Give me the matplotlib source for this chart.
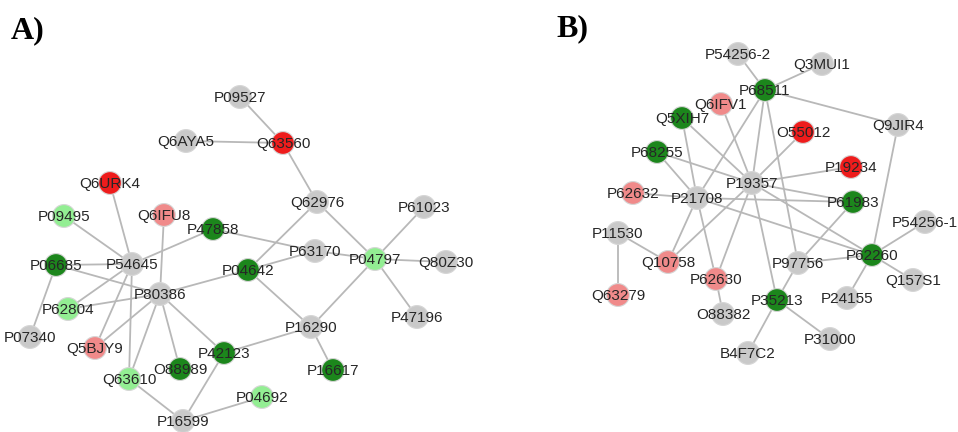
import matplotlib
matplotlib.use("Agg")
import matplotlib.pyplot as plt

# node colour classes
COLORS = {
    "grey": "#c9c9c9",
    "dkgreen": "#1c861c",
    "ltgreen": "#93ee93",
    "red": "#ee1c1c",
    "pink": "#f08a8a",
}

# ---- network A ----
a_names = ["Q6AYA5", "P09527", "Q63560", "Q62976", "P61023", "P63170", "P04797",
           "Q80Z30", "P47858", "P04642", "P47196", "P16290", "P42123", "P16617",
           "P04692", "Q6URK4", "P09495", "Q6IFU8", "P54645", "P06685", "P80386",
           "P62804", "P07340", "Q5BJY9", "O88989", "Q63610", "P16599"]
a_x = [186, 240, 283, 317, 424, 315, 375, 446, 213, 248, 417, 311, 224, 333,
       262, 110, 64, 164, 132, 56, 160, 68, 30, 95, 180, 129, 183]
a_y = [141, 97, 143, 202, 207, 251, 259, 262, 229, 270, 317, 327, 353, 370,
       397, 183, 216, 215, 264, 265, 294, 309, 337, 348, 369, 379, 421]
a_cls = ["grey", "grey", "red", "grey", "grey", "grey", "ltgreen", "grey",
         "dkgreen", "dkgreen", "grey", "grey", "dkgreen", "dkgreen", "ltgreen",
         "red", "ltgreen", "pink", "grey", "dkgreen", "grey", "ltgreen", "grey",
         "pink", "dkgreen", "ltgreen", "grey"]
a_edges = [
    ("P09527", "Q63560"), ("Q6AYA5", "Q63560"), ("Q63560", "Q62976"),
    ("Q62976", "P04797"), ("Q62976", "P04642"), ("P47858", "P63170"),
    ("P63170", "P04797"), ("P04642", "P63170"), ("P61023", "P04797"),
    ("P04797", "Q80Z30"), ("P04797", "P47196"), ("P04797", "P16290"),
    ("P04642", "P16290"), ("P16290", "P42123"), ("P16290", "P16617"),
    ("P16599", "P04692"), ("P16599", "P42123"), ("P16599", "Q63610"),
    ("P42123", "P80386"), ("P80386", "O88989"), ("P80386", "Q63610"),
    ("P80386", "Q5BJY9"), ("P80386", "P62804"), ("P80386", "P04642"),
    ("P80386", "Q6IFU8"), ("P80386", "P06685"), ("P54645", "P06685"),
    ("P54645", "P09495"), ("P54645", "Q6URK4"), ("P54645", "P47858"),
    ("P54645", "P62804"), ("P54645", "Q5BJY9"), ("P54645", "Q63610"),
    ("P06685", "P07340"),
]

# ---- network B ----
b_names = ["P54256-2", "Q3MUI1", "P68511", "Q6IFV1", "Q5XIH7", "O55012", "Q9JIR4",
           "P68255", "P19357", "P19234", "P62632", "P21708", "P61983", "P54256-1",
           "P11530", "Q10758", "P62260", "P97756", "P62630", "Q157S1", "Q63279",
           "P35213", "P24155", "O88382", "P31000", "B4F7C2"]
b_x = [738, 822, 765, 721, 682, 803, 898, 657, 752, 851, 633, 697, 853, 925,
       618, 668, 872, 798, 716, 913, 618, 777, 847, 723, 830, 748]
b_y = [54, 64, 90, 104, 118, 132, 125, 152, 183, 167, 193, 198, 202, 222,
       233, 262, 255, 263, 279, 280, 295, 300, 298, 314, 339, 353]
b_cls = ["grey", "grey", "dkgreen", "pink", "dkgreen", "red", "grey", "dkgreen",
         "grey", "red", "pink", "grey", "dkgreen", "grey", "grey", "pink",
         "dkgreen", "grey", "pink", "grey", "pink", "dkgreen", "grey", "grey",
         "grey", "grey"]
b_edges = [
    ("P54256-2", "P68511"), ("Q3MUI1", "P68511"), ("P68511", "Q9JIR4"),
    ("Q9JIR4", "P62260"), ("P68511", "P19357"), ("P68511", "P21708"),
    ("P68511", "P97756"), ("Q6IFV1", "P19357"), ("Q5XIH7", "P19357"),
    ("Q5XIH7", "P21708"), ("P68255", "P21708"), ("P68255", "P19357"),
    ("P62632", "P21708"), ("P21708", "P61983"), ("P19357", "O55012"),
    ("P19357", "P19234"), ("P19357", "P61983"), ("P19357", "P62260"),
    ("P21708", "P62260"), ("P19357", "Q10758"), ("P19357", "P62630"),
    ("P19357", "P35213"), ("P21708", "Q10758"), ("P21708", "P62630"),
    ("P11530", "Q10758"), ("P11530", "Q63279"), ("P62630", "O88382"),
    ("P97756", "P62260"), ("P61983", "P97756"), ("P97756", "P35213"),
    ("P62260", "P54256-1"), ("P62260", "Q157S1"), ("P62260", "P24155"),
    ("P35213", "B4F7C2"), ("P35213", "P31000"),
]

fig = plt.figure(figsize=(9.58, 4.32), dpi=100)
ax = fig.add_axes([0, 0, 1, 1])
ax.set_xlim(0, 958)
ax.set_ylim(432, 0)
ax.axis("off")


def draw_net(names, xs, ys, cls, edges):
    pos = {n: (x, y) for n, x, y in zip(names, xs, ys)}
    for u, v in edges:
        ax.plot([pos[u][0], pos[v][0]], [pos[u][1], pos[v][1]],
                color="#b8b8b8", lw=1.3, zorder=1, solid_capstyle="round")
    ax.scatter(xs, ys, s=270, c=[COLORS[c] for c in cls],
               edgecolors="#d6d6d6", linewidths=0.8, zorder=2)
    for n, x, y in zip(names, xs, ys):
        ax.text(x, y + 1, n, ha="center", va="center", fontsize=11,
                family="Liberation Sans", color="#262626", zorder=3)


draw_net(a_names, a_x, a_y, a_cls, a_edges)
draw_net(b_names, b_x, b_y, b_cls, b_edges)

ax.text(11, 31, "A)", fontsize=23, fontweight="bold", family="Liberation Serif",
        ha="left", va="center")
ax.text(556, 29, "B)", fontsize=23, fontweight="bold", family="Liberation Serif",
        ha="left", va="center")

fig.savefig("out.png", dpi=100, facecolor="white")
